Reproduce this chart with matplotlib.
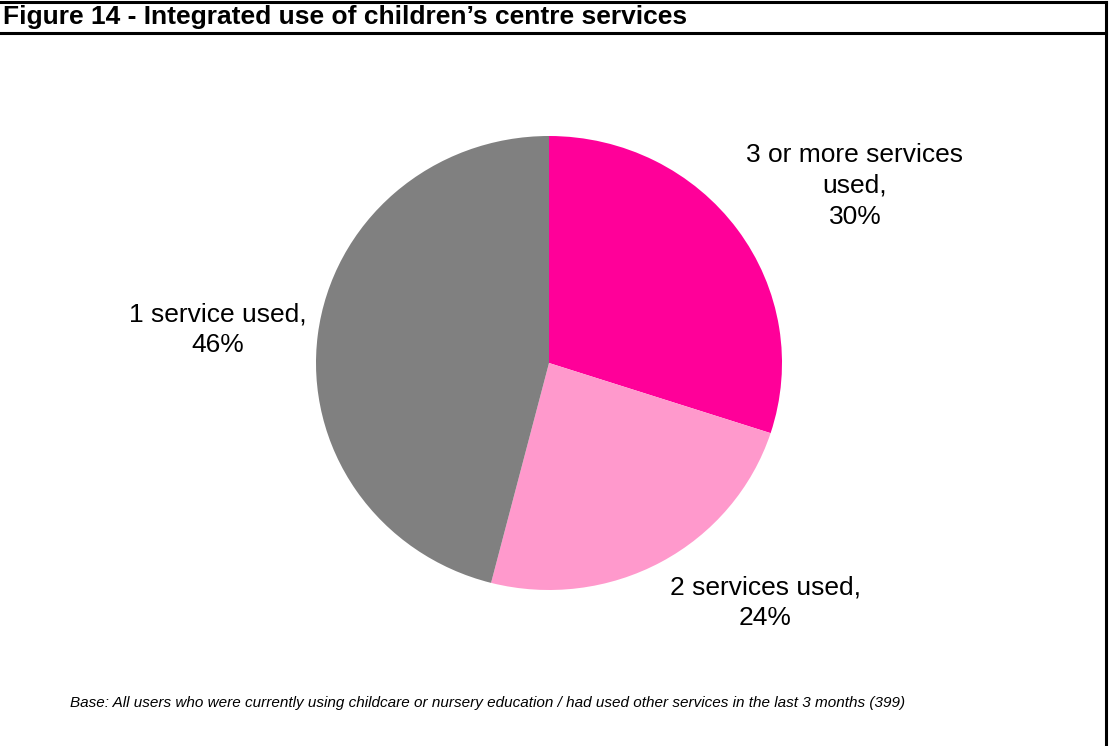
import matplotlib
matplotlib.use("Agg")
import matplotlib.pyplot as plt
from matplotlib.lines import Line2D

plt.rcParams['font.family'] = ['Liberation Sans', 'DejaVu Sans']

categories = ["3 or more services\nused,", "2 services used,", "1 service used,"]
shares = [30, 24, 46]
colors = ["#FF0099", "#FF99CC", "#808080"]

W, H = 1109, 746
fig = plt.figure(figsize=(W / 100, H / 100), dpi=100)

# frame lines: top rule, rule under the title, right edge
fig.add_artist(Line2D([0, 1105.5 / W], [1 - 1.5 / H] * 2, color="black", lw=2.2))
fig.add_artist(Line2D([0, 1105.5 / W], [1 - 32.5 / H] * 2, color="black", lw=2.2))
fig.add_artist(Line2D([1105.5 / W] * 2, [0, 1 - 1.5 / H], color="black", lw=2.2))

fig.text(3 / W, 1 - 17 / H, "Figure 14 - Integrated use of children\u2019s centre services",
         fontsize=19, fontweight="bold", ha="left", va="center")

# pie axes: centre (549, 363) px, radii 233 px across and 227 px down
cx, cy, rx, ry = 549, 363, 233, 227
half = 250
ax = fig.add_axes([(cx - half) / W, (H - cy - half) / H, 2 * half / W, 2 * half / H])
wedges, _ = ax.pie(shares, colors=colors, startangle=90, counterclock=False, radius=1,
                   wedgeprops=dict(linewidth=0))
ax.set_aspect("auto")
ax.set_xlim(-half / rx, half / rx)
ax.set_ylim(-half / ry, half / ry)
ax.axis("off")

label_pos = [(855, 186), (765, 603), (218, 330)]
for (px, py), cat, val in zip(label_pos, categories, shares):
    fig.text(px / W, 1 - py / H, f"{cat}\n{val}%", fontsize=19, ha="center", va="center",
             linespacing=1.35)

fig.text(70 / W, 1 - 703 / H,
         "Base: All users who were currently using childcare or nursery education / had used other services in the last 3 months (399)",
         fontsize=11, style="italic", ha="left", va="center")

fig.savefig("out.png", dpi=100)
